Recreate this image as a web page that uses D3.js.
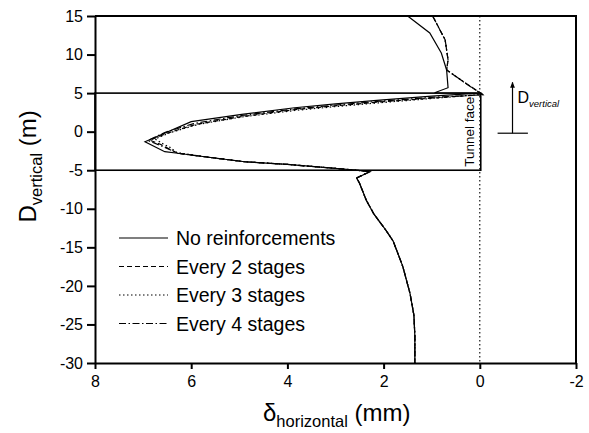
<!DOCTYPE html>
<html>
<head>
<meta charset="utf-8">
<script src="https://cdn.jsdelivr.net/npm/d3@7"></script>
<style>
  body { margin: 0; background: #fff; }
  svg { display: block; font-family: "Liberation Sans", Arial, sans-serif; }
  .axis path, .axis line { stroke: #000; stroke-width: 2; }
  .axis text { font-size: 16px; fill: #000; }
  .curve { fill: none; stroke: #000; stroke-width: 1.2; }
</style>
</head>
<body>
<svg width="589" height="433"></svg>
<script>
const svg = d3.select('svg'),
    width = +svg.attr('width'),
    height = +svg.attr('height');

const margin = {top: 16, right: 13, bottom: 70, left: 95};

// tick values
const xTicks = [8, 6, 4, 2, 0, -2];
const yTicks = [-30, -25, -20, -15, -10, -5, 0, 5, 10, 15];

// [delta_horizontal (mm), D_vertical (m)]
const noReinfHead = [[1.50, 15], [1.04, 12.8], [0.80, 10.2], [0.69, 8.0], [0.66, 5.7], [0.94, 5.05],
  [0.02, 5.0], [1.0, 4.6], [2.08, 4.1], [3.0, 3.6], [3.85, 3.1], [4.95, 2.25], [6.0, 1.3],
  [6.96, -1.3], [6.55, -2.6], [6.28, -2.8]];
const every2Head = [[0.98, 15], [0.72, 11.9], [0.66, 9.3], [0.69, 8.0], [0.30, 6.3], [-0.07, 4.8],
  [1.0, 4.35], [2.08, 3.85], [3.0, 3.35], [3.85, 2.85], [4.95, 1.95], [5.9, 0.95], [6.5, -0.2],
  [6.86, -1.1], [6.62, -1.7], [6.41, -2.4], [6.28, -2.8]];
const every3Head = [[0.98, 15], [0.72, 11.9], [0.66, 9.3], [0.69, 8.0], [0.32, 6.4], [-0.05, 4.85],
  [1.0, 4.3], [2.08, 3.75], [3.0, 3.25], [3.85, 2.75], [4.95, 1.9], [5.85, 0.95], [6.45, -0.15],
  [6.75, -0.95], [6.58, -1.6], [6.45, -2.0], [6.3, -2.7]];
const every4Head = [[0.98, 15], [0.72, 11.9], [0.66, 9.3], [0.69, 8.0], [0.28, 6.2], [-0.06, 4.78],
  [1.0, 4.45], [2.08, 3.95], [3.0, 3.45], [3.85, 2.95], [4.95, 2.1], [5.95, 1.05], [6.55, -0.1],
  [6.9, -1.15], [6.6, -1.9], [6.38, -2.5], [6.28, -2.8]];
// all four cases coincide below the bulge tip
const lowerTail = [[5.72, -3.25], [4.89, -3.9], [4.0, -4.25], [3.12, -4.7], [2.56, -5.0], [2.29, -5.2],
  [2.56, -6.0], [2.5, -6.7], [2.36, -8.9], [2.2, -10.7], [1.95, -12.8], [1.8, -14.2], [1.6, -17.5],
  [1.45, -21.0], [1.37, -23.8], [1.35, -26.5], [1.35, -30]];

const seriesNames = ['No reinforcements', 'Every 2 stages', 'Every 3 stages', 'Every 4 stages'];
const dashes = [null, '5,3', '1.5,2.5', '7,2.5,1.5,2.5'];

const series = [noReinfHead, every2Head, every3Head, every4Head].map((h, i) => ({
  name: seriesNames[i], dash: dashes[i], points: h.concat(lowerTail)
}));

const x = d3.scaleLinear()
    .domain([8, -2])
    .range([margin.left, width - margin.right]);
const y = d3.scaleLinear()
    .domain([-30, 15])
    .range([height - margin.bottom, margin.top]);

// zero line
svg.append('line')
    .attr('x1', x(0)).attr('x2', x(0))
    .attr('y1', y(15)).attr('y2', y(-30))
    .attr('stroke', '#000').attr('stroke-width', 1.1)
    .attr('stroke-dasharray', '1.5,2.5');

// tunnel face box
svg.append('rect')
    .attr('x', x(8)).attr('y', y(5))
    .attr('width', x(-0.02) - x(8)).attr('height', y(-5) - y(5))
    .attr('fill', 'none').attr('stroke', '#000').attr('stroke-width', 1.6);

svg.append('text')
    .attr('transform', `translate(${x(0.13)},${y(0)}) rotate(-90)`)
    .attr('text-anchor', 'middle')
    .attr('font-size', 13.5)
    .text('Tunnel face');

const line = d3.line()
    .x(d => x(d[0]))
    .y(d => y(d[1]));

svg.append('g')
  .selectAll('path')
  .data(series)
  .enter().append('path')
    .attr('class', 'curve')
    .attr('stroke-dasharray', d => d.dash)
    .attr('d', d => line(d.points));

// axes, plain hyphen for negatives
const plain = d => String(d);

svg.append('g')
    .attr('class', 'axis')
    .attr('transform', `translate(0,${y(-30)})`)
    .call(d3.axisBottom(x).tickValues(xTicks).tickFormat(plain)
      .tickSize(6).tickPadding(7).tickSizeOuter(0));

svg.append('g')
    .attr('class', 'axis')
    .attr('transform', `translate(${x(8)},0)`)
    .call(d3.axisLeft(y).tickValues(yTicks).tickFormat(plain)
      .tickSize(8).tickPadding(4).tickSizeOuter(0));

// frame top and right
svg.append('path')
    .attr('d', `M${x(8)},${y(15)}H${x(-2)}V${y(-30)}`)
    .attr('fill', 'none').attr('stroke', '#000').attr('stroke-width', 2);

// vertical direction marker
const ax = x(-0.68);
svg.append('defs').append('marker')
    .attr('id', 'arrow')
    .attr('viewBox', '0 0 10 10')
    .attr('refX', 9).attr('refY', 5)
    .attr('markerWidth', 5).attr('markerHeight', 6)
    .attr('orient', 'auto')
  .append('path')
    .attr('d', 'M0,1L10,5L0,9Z');
svg.append('line')
    .attr('x1', ax).attr('x2', ax)
    .attr('y1', y(-0.2)).attr('y2', y(6.4))
    .attr('stroke', '#000').attr('stroke-width', 1.2)
    .attr('marker-end', 'url(#arrow)');
svg.append('line')
    .attr('x1', x(-0.37)).attr('x2', x(-1.0))
    .attr('y1', y(-0.2)).attr('y2', y(-0.2))
    .attr('stroke', '#000').attr('stroke-width', 1.2);
const dLabel = svg.append('text')
    .attr('x', ax + 5).attr('y', y(3.7))
    .attr('font-size', 16);
dLabel.append('tspan').text('D');
dLabel.append('tspan')
    .attr('font-size', 9.5).attr('font-style', 'italic').attr('dy', 4)
    .text('vertical');

// axis titles
const xTitle = svg.append('text')
    .attr('x', 263).attr('y', 421)
    .attr('font-size', 24);
xTitle.append('tspan').text('δ');
xTitle.append('tspan').attr('font-size', 16.5).attr('dy', 6).text('horizontal');
xTitle.append('tspan').attr('dy', -6).text(' (mm)');

const yTitle = svg.append('text')
    .attr('transform', `translate(36,${y(-4.5)}) rotate(-90)`)
    .attr('text-anchor', 'middle')
    .attr('font-size', 24);
yTitle.append('tspan').text('D');
yTitle.append('tspan').attr('font-size', 16.5).attr('dy', 6).text('vertical');
yTitle.append('tspan').attr('dy', -6).text(' (m)');

// legend
const legend = svg.append('g')
  .selectAll('g')
  .data(series)
  .enter().append('g')
    .attr('transform', (d, i) => `translate(119,${238 + i * 28.5})`);
legend.append('line')
    .attr('x1', 0).attr('x2', 49)
    .attr('stroke', '#000').attr('stroke-width', 1.2)
    .attr('stroke-dasharray', d => d.dash);
legend.append('text')
    .attr('x', 57).attr('dy', '0.36em')
    .attr('font-size', 19.5)
    .text(d => d.name);
</script>
</body>
</html>
